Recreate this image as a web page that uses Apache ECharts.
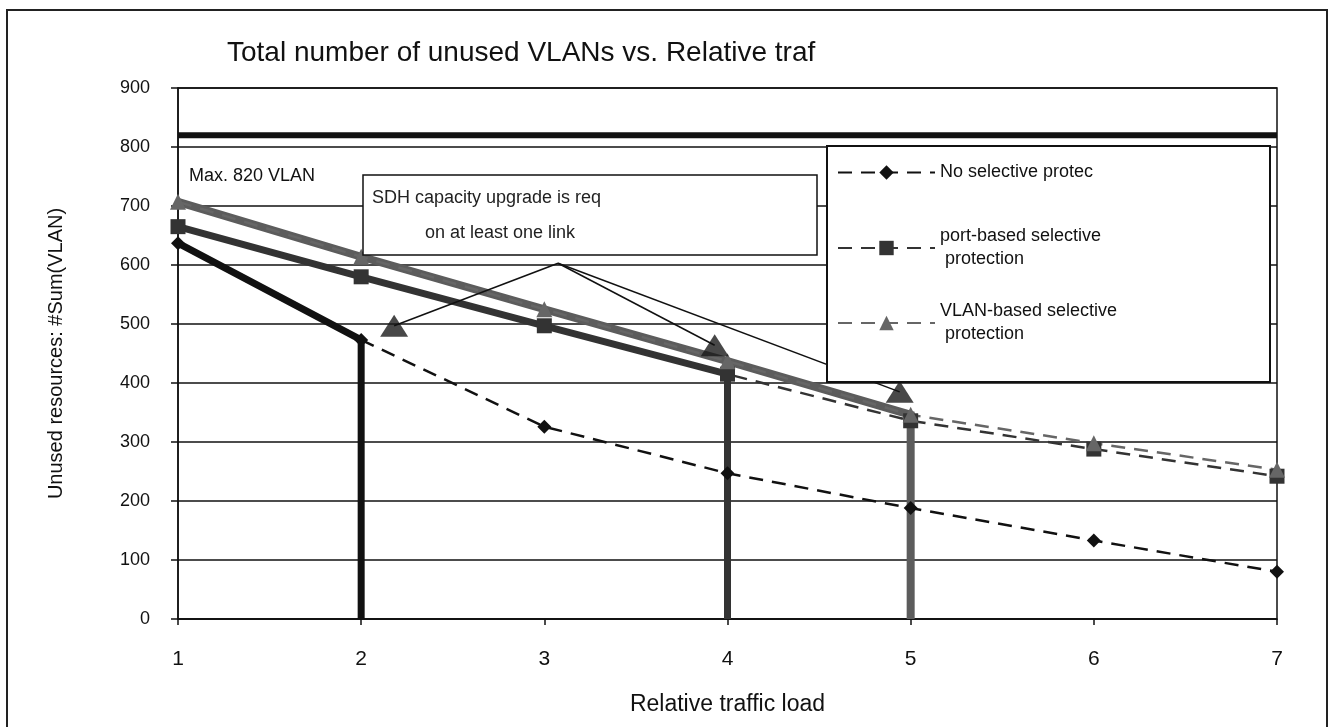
<!DOCTYPE html>
<html>
<head>
<meta charset="utf-8">
<script src="https://cdn.jsdelivr.net/npm/echarts@6/dist/echarts.min.js"></script>
<style>html,body{margin:0;padding:0;background:#fff;}#c{width:1329px;height:727px;}</style>
</head>
<body>
<div id="c"></div>
<script>
// ---- data ----
const xs = [1, 2, 3, 4, 5, 6, 7];
const noSelective = [637, 473, 326, 247, 188, 133, 80];
const portBased   = [665, 580, 497, 415, 336, 288, 242];
const vlanBased   = [707, 614, 525, 437, 346, 298, 253];
const seriesNames = ['No selective protec', 'port-based selective\n protection', 'VLAN-based selective\n protection'];
const upgradeAt = [2, 4, 5];          // load where SDH upgrade becomes required
const maxVlan = 820;
const arrowFrom = [3.075, 603];
const arrowTips = [[2.18, 497], [3.93, 464], [4.94, 385]];
const titleText = 'Total number of unused VLANs vs. Relative traf';
const xName = 'Relative traffic load';
const yName = 'Unused resources: #Sum(VLAN)';
const maxLabel = 'Max. 820 VLAN';
const noteLines = ['SDH capacity upgrade is req', 'on at least one link'];

const FONT = '"Liberation Sans", Arial, sans-serif';
const colors = ['#111111', '#333333', '#666666'];
const thickColors = ['#111111', '#333333', '#5c5c5c'];
const symbols = ['diamond', 'rect', 'triangle'];
const symbolSizes = [14, 15, 16];
const allVals = [noSelective, portBased, vlanBased];

function pairs(vals) { return xs.map((x, i) => [x, vals[i]]); }
function upTo(vals, cap) {
  const pts = [];
  xs.forEach((x, i) => { if (x <= cap) pts.push([x, vals[i]]); });
  pts.push([cap, 0]);
  return pts;
}

const chart = echarts.init(document.getElementById('c'), null, { renderer: 'canvas' });

const series = [];
// thick "feasible range" lines
allVals.forEach((vals, k) => {
  series.push({
    name: 'range' + k, type: 'line', data: upTo(vals, upgradeAt[k]),
    showSymbol: false, symbol: 'none', clip: false, z: 2,
    lineStyle: { color: thickColors[k], width: k === 2 ? 8 : 7, join: 'miter' },
    itemStyle: { color: thickColors[k] }, silent: true
  });
});
// max line
series.push({
  name: 'max', type: 'line', data: [[xs[0], maxVlan], [xs[xs.length - 1], maxVlan]],
  symbol: 'none', clip: false, z: 2,
  lineStyle: { color: '#111', width: 6 }, silent: true
});
// dashed series
allVals.forEach((vals, k) => {
  series.push({
    name: seriesNames[k], type: 'line', data: pairs(vals),
    symbol: symbols[k], symbolSize: symbolSizes[k], clip: false, z: 3,
    lineStyle: { color: colors[k], width: 2.5, type: [14, 9] },
    itemStyle: { color: colors[k] }
  });
});
// arrows
series.push({
  name: 'arrows', type: 'scatter', data: arrowTips, z: 4,
  symbol: 'triangle', symbolSize: [28, 22],
  itemStyle: { color: '#1a1a1a' }, silent: true,
  markLine: {
    silent: true, symbol: ['none', 'none'], animation: false,
    label: { show: false },
    lineStyle: { color: '#111', width: 1.5, type: 'solid' },
    data: arrowTips.map(t => [{ coord: arrowFrom }, { coord: t }])
  }
});

const legendTops = [161, 225, 300];
const legends = seriesNames.map((n, k) => ({
  data: [n], left: 837, top: legendTops[k], orient: 'vertical', padding: 0,
  itemWidth: 97, itemHeight: 18, z: 200, selectedMode: false,
  textStyle: { fontFamily: FONT, fontSize: 18, color: '#111', lineHeight: 23 }
}));

chart.setOption({
  animation: false,
  backgroundColor: '#fff',
  title: {
    text: titleText, left: 222, top: 34,
    textStyle: { fontFamily: FONT, fontSize: 28, fontWeight: 'normal', color: '#111' }
  },
  legend: legends,
  grid: { left: 178, right: 52, top: 88, bottom: 108, show: true, borderColor: '#111', borderWidth: 1.5, backgroundColor: 'transparent' },
  xAxis: {
    type: 'value', min: 1, max: 7, interval: 1,
    name: xName, nameLocation: 'middle', nameGap: 74,
    nameTextStyle: { fontFamily: FONT, fontSize: 23, color: '#111' },
    axisLine: { show: true, lineStyle: { color: '#111', width: 1.5 } },
    axisTick: { show: true, length: 6, lineStyle: { color: '#111', width: 1.5 } },
    axisLabel: { fontFamily: FONT, fontSize: 21, color: '#111', margin: 30 },
    splitLine: { show: false }
  },
  yAxis: {
    type: 'value', min: 0, max: 900, interval: 100,
    name: yName, nameLocation: 'middle', nameGap: 112,
    nameTextStyle: { fontFamily: FONT, fontSize: 20, color: '#111' },
    axisLine: { show: true, lineStyle: { color: '#111', width: 1.5 } },
    axisTick: { show: true, length: 7, lineStyle: { color: '#111', width: 1.5 } },
    axisLabel: { fontFamily: FONT, fontSize: 18, color: '#111', margin: 28 },
    splitLine: { show: true, lineStyle: { color: '#111', width: 1.5 } }
  },
  series: series,
  graphic: [
    { type: 'rect', z: 0, silent: true, shape: { x: 7, y: 10, width: 1320, height: 730 },
      style: { fill: 'none', stroke: '#222', lineWidth: 2 } },
    { type: 'rect', z: 100, silent: true, shape: { x: 827, y: 146, width: 443, height: 236 },
      style: { fill: '#fff', stroke: '#111', lineWidth: 2 } },
    { type: 'rect', z: 100, silent: true, shape: { x: 363, y: 175, width: 454, height: 80 },
      style: { fill: '#fff', stroke: '#111', lineWidth: 1.5 } },
    { type: 'text', z: 101, silent: true, x: 372, y: 198,
      style: { text: noteLines[0], font: '18px ' + FONT, fill: '#222', textVerticalAlign: 'middle' } },
    { type: 'text', z: 101, silent: true, x: 425, y: 233,
      style: { text: noteLines[1], font: '18px ' + FONT, fill: '#222', textVerticalAlign: 'middle' } },
    { type: 'text', z: 101, silent: true, x: 189, y: 176,
      style: { text: maxLabel, font: '18px ' + FONT, fill: '#111', textVerticalAlign: 'middle' } }
  ]
});
</script>
</body>
</html>
